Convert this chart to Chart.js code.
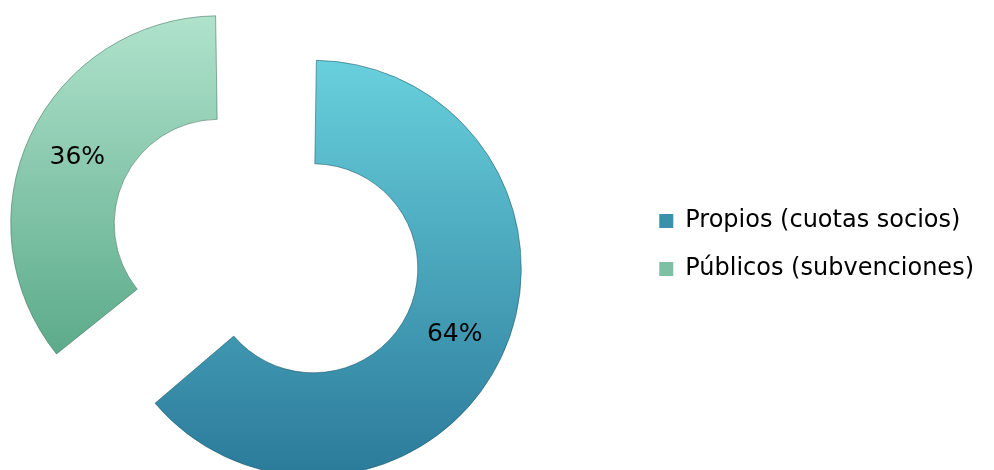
<!DOCTYPE html>
<html>
<head>
<meta charset="utf-8">
<script src="https://cdn.jsdelivr.net/npm/chart.js@4"></script>
<style>
	html, body { margin: 0; padding: 0; background: #fff; overflow: hidden; }
	/* canvas is a bit wider than the page and pulled left, so the ring sits where it does in the original */
	#wrap { position: absolute; left: -44px; top: 0; width: 1038px; height: 470px; }
</style>
</head>
<body>
<div id="wrap"><canvas id="chartFunds"></canvas></div>
<script>
// data
var categories = ['Propios (cuotas socios)', 'Públicos (subvenciones)'];
var shares = [64, 36];

// styles
var RING_OUTER = 188.5;          // base radius, chart.js adds part of the offset to it
var DRAWN_OUTER = 208;
var topColors = ['#68d0dc', '#b0e2cc'];
var bottomColors = ['#2b7a9a', '#5cab8b'];
var edgeColors = ['rgba(25, 85, 105, 0.55)', 'rgba(45, 100, 80, 0.5)'];
var boxColors = ['#3b90ab', '#7dc0a3'];
var sliceOffsets = [78, 340];
var fontFamily = '"DejaVu Sans", sans-serif';

function sliceFill(c) {
	let i = c.dataIndex;
	let area = c.chart.chartArea;
	if (!area) return topColors[i];
	let cy = (area.top + area.bottom) / 2;
	let y1 = i === 0 ? cy + DRAWN_OUTER : cy + DRAWN_OUTER * 0.62;
	let g = c.chart.ctx.createLinearGradient(0, cy - DRAWN_OUTER, 0, y1);
	g.addColorStop(0, topColors[i]);
	g.addColorStop(1, bottomColors[i]);
	return g;
}

// percentage labels in the middle of each exploded slice
var sliceLabels = {
	id: 'sliceLabels',
	afterDatasetsDraw(chart) {
		let ctx = chart.ctx;
		let meta = chart.getDatasetMeta(0);
		ctx.save();
		ctx.font = '25px ' + fontFamily;
		ctx.fillStyle = '#000';
		ctx.textAlign = 'center';
		ctx.textBaseline = 'middle';
		meta.data.forEach((arc, i) => {
			let half = (arc.startAngle + arc.endAngle) / 2;
			let off = (arc.options.offset || 0) / 4;
			let fix = 1 - Math.sin(Math.min(Math.PI, arc.circumference || 0));
			let r = off + off * fix + (arc.innerRadius + arc.outerRadius) / 2;
			ctx.fillText(shares[i] + '%', arc.x + Math.cos(half) * r, arc.y + Math.sin(half) * r);
		});
		ctx.restore();
	}
};

new Chart(document.getElementById('chartFunds').getContext('2d'), {
	type: 'doughnut',
	data: {
		labels: categories,
		datasets: [{
			data: shares,
			backgroundColor: sliceFill,
			borderColor: edgeColors,
			borderWidth: 1,
			offset: sliceOffsets
		}]
	},
	options: {
		responsive: true,
		maintainAspectRatio: false,
		animation: false,
		radius: RING_OUTER,
		cutout: '45.1%',
		layout: {
			padding: { left: 0, right: 10, top: 20, bottom: 0 }
		},
		plugins: {
			tooltip: { enabled: false },
			// empty title only pushes the ring down, the legend keeps its own centre
			title: {
				display: true,
				text: '',
				padding: { top: 20, bottom: 0 },
				font: { size: 10, lineHeight: 1 }
			},
			legend: {
				position: 'right',
				labels: {
					boxWidth: 14,
					boxHeight: 14,
					padding: 24,
					color: '#000',
					font: { size: 24, family: fontFamily },
					generateLabels: (chart) => categories.map((text, i) => ({
						text: text,
						fillStyle: boxColors[i],
						strokeStyle: boxColors[i],
						lineWidth: 0,
						hidden: false,
						index: i
					}))
				}
			}
		}
	},
	plugins: [sliceLabels]
});
</script>
</body>
</html>
